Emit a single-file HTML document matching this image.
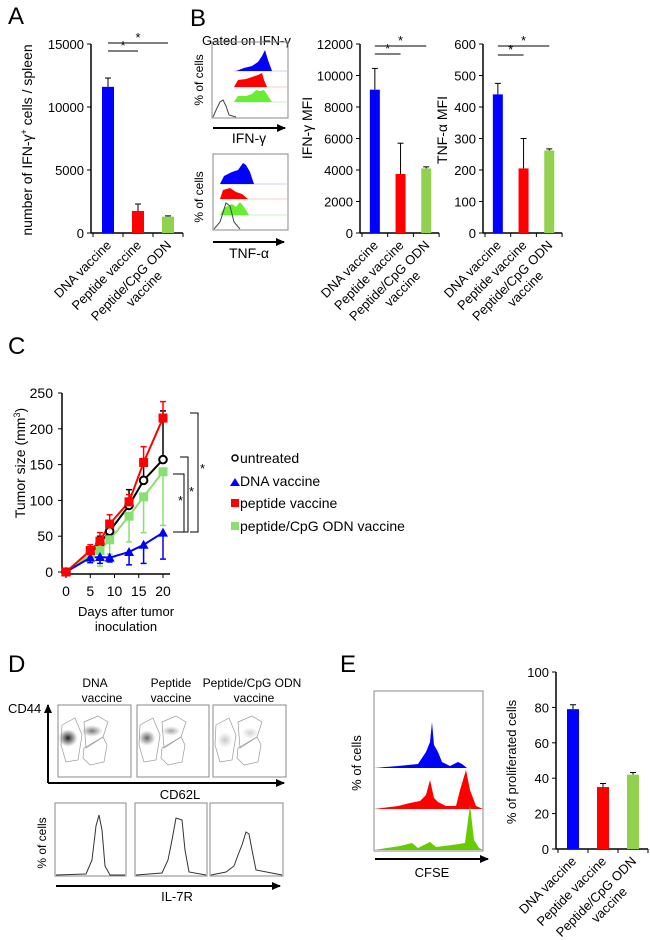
<!DOCTYPE html>
<html><head><meta charset="utf-8"><style>
html,body{margin:0;padding:0;background:#fff}
svg{display:block;font-family:"Liberation Sans",sans-serif}
</style></head><body>
<svg id="fig" width="650" height="940" viewBox="0 0 650 940">
<defs>
<radialGradient id="dens" cx="50%" cy="50%" r="50%"><stop offset="0" stop-color="#000" stop-opacity="0.9"/><stop offset="0.6" stop-color="#333" stop-opacity="0.4"/><stop offset="1" stop-color="#888" stop-opacity="0"/></radialGradient>
<marker id="arr" markerUnits="userSpaceOnUse" markerWidth="9" markerHeight="8" refX="8" refY="4" orient="auto"><path d="M0,0 L9,4 L0,8 z" fill="#000"/></marker>
</defs>
<g font-size="24">
<text x="8" y="24">A</text>
<text x="190" y="26">B</text>
<text x="8" y="354">C</text>
<text x="8" y="672">D</text>
<text x="340" y="672">E</text>
</g>
<g font-size="13">
<text transform="translate(32,140) rotate(-90)" text-anchor="middle" font-size="14">number of IFN-γ<tspan baseline-shift="super" font-size="9">+</tspan> cells / spleen</text>
<text x="202" y="45" font-size="13">Gated on IFN-γ</text>
<text transform="translate(312,128) rotate(-90)" text-anchor="middle" font-size="14">IFN-γ MFI</text>
<text transform="translate(447,130) rotate(-90)" text-anchor="middle" font-size="14">TNF-α MFI</text>
<text transform="translate(25,463) rotate(-90)" text-anchor="middle" font-size="14">Tumor size (mm<tspan baseline-shift="super" font-size="9">3</tspan>)</text>
<text x="126" y="616" text-anchor="middle" font-size="13">Days after tumor</text>
<text x="126" y="631" text-anchor="middle" font-size="13">inoculation</text>
<text transform="translate(516,762) rotate(-90)" text-anchor="middle" font-size="13">% of proliferated cells</text>
</g>
<g id="root"></g>
</svg>
<script>
// ---- data ----
const barCats = ["DNA vaccine","Peptide vaccine","Peptide/CpG ODN"];
const barColors = ["#0000ff","#ff0000","#92d050"];
const aValues = [11600,1750,1300];
const aErrors = [700,550,60];
const aTicks = [0,5000,10000,15000];
const ifnValues = [9100,3750,4100];
const ifnErrors = [1350,1950,100];
const ifnTicks = [0,2000,4000,6000,8000,10000,12000];
const tnfValues = [440,205,262];
const tnfErrors = [35,95,5];
const tnfTicks = [0,100,200,300,400,500,600];
const eValues = [79,35,42];
const eErrors = [2.5,2,1.2];
const eTicks = [0,20,40,60,80,100];
const days = [0,5,7,9,13,16,20];
const dayTicks = [0,5,10,15,20];
const tumorTicks = [0,50,100,150,200,250];
const untreated = [0,25,40,57,93,128,157];
const untreatedErr = [0,8,10,10,22,20,68];
const dnaVac = [0,20,21,20,28,38,55];
const dnaErr = [0,7,9,6,18,26,37];
const pepVac = [0,30,43,67,98,153,215];
const pepErr = [0,8,12,13,10,22,23];
const cpgVac = [0,25,30,45,78,105,140];
const cpgErr = [0,8,22,20,36,50,75];

const NS="http://www.w3.org/2000/svg";
const root=document.getElementById('root');
function mk(tag,a,p){const e=document.createElementNS(NS,tag);for(const k in a)e.setAttribute(k,a[k]);(p||root).appendChild(e);return e;}

function barChart(name,ax,y0,yTop,ticks,values,errs,bandW,barW,sig){
  const g=mk('g',{});
  
  
  const max=ticks[ticks.length-1];
  const ys=v=>y0-(v/max)*(y0-yTop);
  const n=values.length;
  const l1=mk('line',{x1:ax,y1:yTop,x2:ax,y2:y0,stroke:'#000','stroke-width':1.5},g);
  
  
  const l2=mk('line',{x1:ax,y1:y0,x2:ax+bandW*n+2,y2:y0,stroke:'#000','stroke-width':1.5},g);
  
  
  ticks.forEach(t=>{
    mk('line',{x1:ax-4,y1:ys(t),x2:ax,y2:ys(t),stroke:'#000'},g);
    const tx=mk('text',{x:ax-7,y:ys(t)+5,'text-anchor':'end','font-size':13},g);
    tx.textContent=t;
    
    
  });
  for(let i=0;i<=n;i++) mk('line',{x1:ax+i*bandW+2,y1:y0,x2:ax+i*bandW+2,y2:y0+4,stroke:'#000'},g);
  values.forEach((v,i)=>{
    const cx=ax+2+bandW*(i+0.5);
    const top=ys(v+errs[i]);
    mk('line',{x1:cx,y1:ys(v),x2:cx,y2:top,stroke:'#000'},g);
    mk('line',{x1:cx-3,y1:top,x2:cx+3,y2:top,stroke:'#000'},g);
    const r=mk('rect',{x:cx-barW/2,y:ys(v),width:barW,height:y0-ys(v),fill:barColors[i]},g);
    
    
    const t=mk('text',{transform:`translate(${cx+4},${y0+13}) rotate(-45)`,'text-anchor':'end','font-size':13},g);
    t.textContent=barCats[i];
    
    
    if(i==2){const t2=mk('text',{transform:`translate(${cx+4},${y0+13}) rotate(-45)`,x:-50,y:15,'text-anchor':'middle','font-size':13},g);t2.textContent='vaccine';
      
      }
  });
  if(sig){
    const c0=ax+2+bandW*0.5;
    [[1,sig[0]],[2,sig[1]]].forEach(([j,y])=>{
      const c1=ax+2+bandW*(j+0.5);
      const s=mk('line',{x1:c0,y1:y,x2:c1,y2:y,stroke:'#000'},g);
      
      
      const st=mk('text',{x:(c0+c1)/2,y:y-1,'text-anchor':'middle','font-size':13},g);st.textContent='*';
    });
  }
}
barChart('a',91,233,44,aTicks,aValues,aErrors,30,12,[51,43]);
barChart('ifn',360,233,44,ifnTicks,ifnValues,ifnErrors,25.7,10,[54,46]);
barChart('tnf',483,233,44,tnfTicks,tnfValues,tnfErrors,25.7,10,[55,46]);
barChart('e',556,849,672,eTicks,eValues,eErrors,30,12,null);

// ---- panel C line chart ----
const cx0=66, cy0=572;
const xs=d=>cx0+d*4.85, yc=v=>cy0-v*(179/250);
const gc=mk('g',{});


mk('line',{x1:62,y1:393,x2:62,y2:574,stroke:'#000','stroke-width':1.5},gc);
mk('line',{x1:62,y1:574,x2:170,y2:574,stroke:'#000','stroke-width':1.5},gc);
tumorTicks.forEach(t=>{mk('line',{x1:58,y1:yc(t),x2:62,y2:yc(t),stroke:'#000'},gc);
  const tx=mk('text',{x:53,y:yc(t)+5,'text-anchor':'end','font-size':14},gc);tx.textContent=t;
  
  });
dayTicks.forEach(t=>{mk('line',{x1:xs(t),y1:574,x2:xs(t),y2:578,stroke:'#000'},gc);
  const tx=mk('text',{x:xs(t),y:596,'text-anchor':'middle','font-size':14},gc);tx.textContent=t;
  
  });
const series=[
 {n:'untreated',v:untreated,e:untreatedErr,c:'#000',m:'circle',up:true},
 {n:'cpg',v:cpgVac,e:cpgErr,c:'#88e070',m:'square',up:false},
 {n:'dna',v:dnaVac,e:dnaErr,c:'#0000ff',m:'tri',up:false},
 {n:'peptide',v:pepVac,e:pepErr,c:'#ff0000',m:'square',up:true}];
function marker(m,x,y,c,p){
  if(m=='circle') return mk('circle',{cx:x,cy:y,r:3.8,fill:'#fff',stroke:'#000','stroke-width':2},p);
  if(m=='square') return mk('rect',{x:x-4.5,y:y-4.5,width:9,height:9,fill:c},p);
  return mk('polygon',{points:`${x},${y-5} ${x+5},${y+4} ${x-5},${y+4}`,fill:c},p);
}
series.forEach(s=>{
  const pts=days.map((d,i)=>xs(d)+','+yc(s.v[i])).join(' ');
  const pl=mk('polyline',{points:pts,fill:'none',stroke:s.c,'stroke-width':2},gc);
  
  
  days.forEach((d,i)=>{
    if(s.e[i]>0){const y2=yc(s.v[i]+(s.up?s.e[i]:-s.e[i]));
      mk('line',{x1:xs(d),y1:yc(s.v[i]),x2:xs(d),y2:y2,stroke:s.c,'stroke-width':1.5},gc);
      mk('line',{x1:xs(d)-3,y1:y2,x2:xs(d)+3,y2:y2,stroke:s.c,'stroke-width':1.5},gc);}
  });
});
series.forEach(s=>{days.forEach((d,i)=>{const mm=marker(s.m,xs(d),yc(s.v[i]),s.c,gc);
  
  });});
</script>
<script>
const svgR=document.getElementById('fig');
function S(markup){svgR.insertAdjacentHTML('beforeend',markup);}
S(`<g font-size="14">
<circle cx="235" cy="458" r="3" fill="#fff" stroke="#000" stroke-width="1.5"/><text x="240" y="463">untreated</text>
<polygon points="235,478 240,486 230,486" fill="#0000ff"/><text x="240" y="486">DNA vaccine</text>
<rect x="231" y="499" width="8" height="8" fill="#ff0000"/><text x="240" y="508">peptide vaccine</text>
<rect x="231" y="522" width="8" height="8" fill="#88e070"/><text x="240" y="531">peptide/CpG ODN vaccine</text>
</g>
<g stroke="#000" fill="none" font-size="13">
<path d="M173,474 H184 V532 H173"/><path d="M180,457 H188 V532 H180"/><path d="M190,413 H198 V532 H190"/>
<text x="178" y="505" stroke="none" fill="#000">*</text><text x="189" y="496" stroke="none" fill="#000">*</text><text x="200" y="473" stroke="none" fill="#000">*</text>
</g>
<g>
<rect x="212" y="42" width="76" height="76" fill="none" stroke="#888"/>
<line x1="234" y1="71" x2="287" y2="71" stroke="#99f" stroke-width="0.5"/><line x1="234" y1="87" x2="287" y2="87" stroke="#f99" stroke-width="0.5"/><line x1="234" y1="102" x2="287" y2="102" stroke="#9d9" stroke-width="0.5"/>
<path d="M236,71 L244,68 L252,66 L258,62 L262,56 L265,50 L268,60 L272,71 Z" fill="#0000ff"/>
<path d="M234,87 L238,80 L246,79 L252,77 L258,75 L262,73 L264,80 L267,87 Z" fill="#ff0000"/>
<path d="M234,102 L238,96 L246,96 L252,94 L256,90 L260,91 L264,90 L268,96 L272,102 Z" fill="#66ee33"/>
<path d="M213,117 L217,108 L220,102 L223,100 L226,106 L229,115 L236,117" fill="none" stroke="#444"/>
<line x1="213" y1="128" x2="285" y2="128" stroke="#000" stroke-width="2" marker-end="url(#arr)"/>
<text x="249" y="143" text-anchor="middle" font-size="14">IFN-γ</text>
<text transform="translate(203,80) rotate(-90)" text-anchor="middle" font-size="12">% of cells</text>
</g>
<g>
<rect x="213" y="154" width="75" height="76" fill="none" stroke="#888"/>
<line x1="220" y1="184" x2="287" y2="184" stroke="#99f" stroke-width="0.5"/><line x1="220" y1="199" x2="287" y2="199" stroke="#f99" stroke-width="0.5"/><line x1="220" y1="215" x2="287" y2="215" stroke="#9d9" stroke-width="0.5"/>
<path d="M220,184 L224,176 L232,172 L238,170 L243,163 L246,165 L250,172 L254,184 Z" fill="#0000ff"/>
<path d="M220,199 L223,190 L230,188 L236,192 L242,194 L248,199 Z" fill="#ff0000"/>
<path d="M220,215 L224,208 L228,206 L232,204 L236,207 L240,202 L244,207 L249,215 Z" fill="#66ee33"/>
<path d="M214,229 L220,222 L226,203 L230,206 L234,222 L240,229" fill="none" stroke="#444"/>
<line x1="213" y1="242" x2="284" y2="242" stroke="#000" stroke-width="2" marker-end="url(#arr)"/>
<text x="249" y="258" text-anchor="middle" font-size="14">TNF-α</text>
<text transform="translate(203,197) rotate(-90)" text-anchor="middle" font-size="12">% of cells</text>
</g>
<g font-size="12">
<text x="95" y="687" text-anchor="middle">DNA</text><text x="102" y="702" text-anchor="middle">vaccine</text>
<text x="171" y="687" text-anchor="middle">Peptide</text><text x="171" y="702" text-anchor="middle">vaccine</text>
<text x="252" y="687" text-anchor="middle">Peptide/CpG ODN</text><text x="254" y="702" text-anchor="middle">vaccine</text>
<text x="8" y="713" font-size="13">CD44</text>
<line x1="48" y1="783" x2="48" y2="705" stroke="#000" stroke-width="2" marker-end="url(#arr)"/>
<line x1="48" y1="783" x2="284" y2="783" stroke="#000" stroke-width="2" marker-end="url(#arr)"/>
<text x="180" y="799" text-anchor="middle" font-size="13">CD62L</text>
<rect x="58" y="705" width="73" height="72" fill="none" stroke="#888"/>
<rect x="137" y="705" width="72" height="72" fill="none" stroke="#888"/>
<rect x="213" y="705" width="73" height="72" fill="none" stroke="#888"/>
<ellipse cx="68" cy="738" rx="10" ry="9" fill="url(#dens)"/><ellipse cx="92" cy="731" rx="11" ry="6" fill="url(#dens)" opacity="0.6"/>
<ellipse cx="147" cy="738" rx="9" ry="8" fill="url(#dens)" opacity="0.7"/><ellipse cx="171" cy="731" rx="10" ry="5" fill="url(#dens)" opacity="0.4"/>
<ellipse cx="225" cy="740" rx="8" ry="8" fill="url(#dens)" opacity="0.25"/><ellipse cx="250" cy="733" rx="9" ry="6" fill="url(#dens)" opacity="0.2"/>
<g fill="none" stroke="#999" stroke-width="0.7">
<path d="M62,725 L75,718 L82,735 L78,760 L66,762 L61,745 Z"/><path d="M84,722 L98,716 L108,722 L103,737 L86,748 Z"/><path d="M84,748 L103,737 L107,745 L104,762 L90,765 L83,758 Z"/>
<path d="M140,725 L153,718 L160,735 L156,760 L144,762 L139,745 Z"/><path d="M162,722 L176,716 L186,722 L181,737 L164,748 Z"/><path d="M162,748 L181,737 L185,745 L182,762 L168,765 L161,758 Z"/>
<path d="M216,725 L229,718 L236,735 L232,760 L220,762 L215,745 Z"/><path d="M238,722 L252,716 L262,722 L257,737 L240,748 Z"/><path d="M238,748 L257,737 L261,745 L258,762 L244,765 L237,758 Z"/>
</g>
<rect x="55" y="803" width="71" height="73" fill="none" stroke="#888"/>
<rect x="135" y="803" width="72" height="73" fill="none" stroke="#888"/>
<rect x="210" y="803" width="73" height="73" fill="none" stroke="#888"/>
<path d="M56,875 L86,874 L92,860 L96,826 L99,815 L102,830 L105,866 L110,875 L125,875" fill="none" stroke="#333"/>
<path d="M136,875 L162,873 L168,860 L172,840 L176,818 L182,820 L185,850 L189,872 L206,875" fill="none" stroke="#333"/>
<path d="M211,875 L226,872 L234,866 L238,855 L242,845 L246,832 L249,834 L252,850 L256,870 L282,875" fill="none" stroke="#333"/>
<line x1="56" y1="886" x2="280" y2="886" stroke="#000" stroke-width="2" marker-end="url(#arr)"/>
<text x="177" y="901" text-anchor="middle" font-size="13">IL-7R</text>
<text transform="translate(46,843) rotate(-90)" text-anchor="middle" font-size="12">% of cells</text>
</g>
<g>
<rect x="374" y="691" width="109" height="160" fill="none" stroke="#888"/>
<path d="M374,768 L398,766 L418,764 L426,752 L430,742 L432,722 L434,745 L438,752 L442,762 L450,766 L458,762 L462,764 L467,768 L483,768 Z" fill="#0000ff"/>
<path d="M374,809 L398,806 L410,803 L420,801 L426,795 L430,780 L434,798 L438,802 L446,806 L456,806 L460,790 L466,770 L470,790 L476,806 L483,809 Z" fill="#ff0000"/>
<path d="M374,850 L400,846 L412,843 L418,848 L430,842 L436,847 L452,845 L465,843 L470,805 L474,840 L479,848 L483,850 Z" fill="#66cc00"/>
<line x1="375" y1="859" x2="488" y2="859" stroke="#000" stroke-width="2" marker-end="url(#arr)"/>
<text x="432" y="877" text-anchor="middle" font-size="13">CFSE</text>
<text transform="translate(361,763) rotate(-90)" text-anchor="middle" font-size="13">% of cells</text>
</g>`);
</script>
</body></html>
